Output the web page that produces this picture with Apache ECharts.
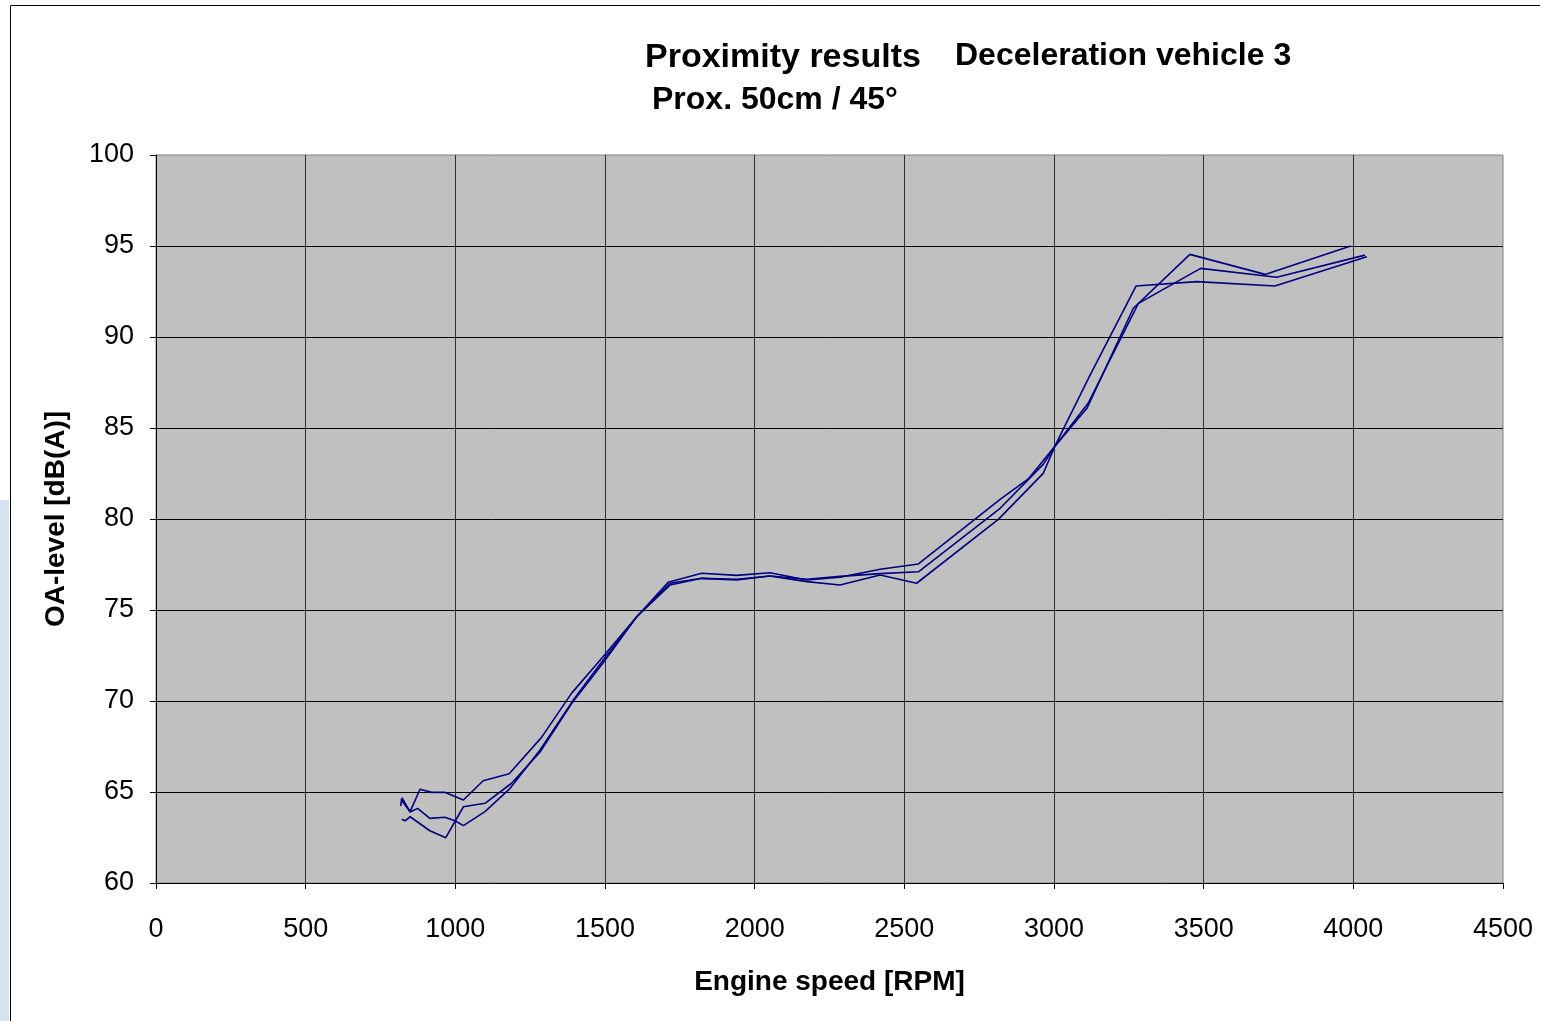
<!DOCTYPE html>
<html>
<head>
<meta charset="utf-8">
<script src="https://cdn.jsdelivr.net/npm/echarts@6/dist/echarts.min.js"></script>
<style>
html,body{margin:0;padding:0;background:#fff;}
#chart{width:1545px;height:1021px;}
</style>
</head>
<body>
<div id="chart"></div>
<script>
// Tick settings
const xTicks = [0, 500, 1000, 1500, 2000, 2500, 3000, 3500, 4000, 4500];
const yTicks = [60, 65, 70, 75, 80, 85, 90, 95, 100];

// Run 1
const rpmA = [818, 849, 882, 921, 965, 1027, 1093, 1180, 1288, 1388, 1494, 1606, 1711, 1823, 1940, 2051, 2174, 2285, 2419, 2547, 2820, 2914, 3003, 3118, 3274, 3477, 3738, 4045];
const dbA  = [64.6, 63.92, 65.15, 64.98, 64.98, 64.56, 65.62, 66.0, 68.0, 70.42, 72.44, 74.63, 76.52, 77.02, 76.9, 77.05, 76.65, 76.8, 77.24, 77.53, 81.08, 82.2, 84.0, 87.82, 92.8, 93.04, 92.8, 94.41];

// Run 2
const rpmB = [817, 822, 849, 874, 915, 965, 999, 1027, 1099, 1183, 1283, 1394, 1494, 1606, 1717, 1823, 1940, 2051, 2174, 2285, 2419, 2547, 2820, 2964, 3003, 3110, 3265, 3454, 3705, 3991];
const dbB  = [64.23, 64.67, 63.9, 64.1, 63.55, 63.61, 63.42, 63.15, 63.92, 65.2, 67.31, 70.05, 72.25, 74.63, 76.47, 76.74, 76.69, 76.87, 76.69, 76.85, 77.0, 77.1, 80.59, 83.0, 84.0, 86.08, 91.58, 94.54, 93.44, 95.0];

// Run 3
const rpmC = [821, 832, 849, 915, 968, 1027, 1099, 1188, 1283, 1389, 1494, 1606, 1717, 1823, 1940, 2051, 2174, 2285, 2419, 2541, 2814, 2964, 3003, 3114, 3282, 3490, 3744, 4039];
const dbC  = [63.5, 63.42, 63.64, 62.87, 62.49, 64.19, 64.38, 65.48, 67.2, 69.87, 72.1, 74.63, 76.37, 76.74, 76.65, 76.87, 76.56, 76.37, 76.92, 76.47, 79.98, 82.51, 84.0, 86.36, 91.85, 93.77, 93.28, 94.5];

const runs = [[rpmA, dbA], [rpmB, dbB], [rpmC, dbC]];

const FONT = '"Liberation Sans", Arial, sans-serif';
const chart = echarts.init(document.getElementById('chart'), null, {renderer: 'canvas'});

const series = runs.map(function (r, i) {
  return {
    type: 'line',
    name: 'Run ' + (i + 1),
    data: r[0].map(function (x, j) { return [x, r[1][j]]; }),
    symbol: 'none',
    lineStyle: {color: '#000080', width: 1.6},
    itemStyle: {color: '#000080'},
    animation: false,
    z: 5
  };
});

chart.setOption({
  backgroundColor: '#ffffff',
  animation: false,
  grid: {
    left: 156, right: 42, top: 155, bottom: 138,
    show: true, backgroundColor: '#C0C0C0', borderColor: '#808080', borderWidth: 1
  },
  xAxis: {
    type: 'value',
    min: xTicks[0], max: xTicks[xTicks.length - 1], interval: 500,
    name: 'Engine speed [RPM]',
    nameLocation: 'middle',
    nameGap: 85,
    nameTextStyle: {fontFamily: FONT, fontSize: 28, fontWeight: 'bold', color: '#000'},
    axisLine: {show: true, onZero: false, lineStyle: {color: '#000', width: 1}},
    axisTick: {show: true, inside: false, length: 6, lineStyle: {color: '#000'}},
    axisLabel: {fontFamily: FONT, fontSize: 27, color: '#000', margin: 33, formatter: function (v) { return String(v); }},
    splitLine: {show: true, showMinLine: false, showMaxLine: false, lineStyle: {color: '#303030', width: 1}}
  },
  yAxis: {
    type: 'value',
    min: yTicks[0], max: yTicks[yTicks.length - 1], interval: 5,
    name: 'OA-level [dB(A)]',
    nameLocation: 'middle',
    nameGap: 86,
    nameTextStyle: {fontFamily: FONT, fontSize: 28, fontWeight: 'bold', color: '#000'},
    axisLine: {show: true, onZero: false, lineStyle: {color: '#000', width: 1}},
    axisTick: {show: true, inside: false, length: 6, lineStyle: {color: '#000'}},
    axisLabel: {fontFamily: FONT, fontSize: 27, color: '#000', margin: 22, formatter: function (v) { return String(v); }},
    splitLine: {show: true, showMinLine: false, showMaxLine: false, lineStyle: {color: '#000', width: 1}}
  },
  series: series,
  graphic: [
    {type: 'rect', shape: {x: 0, y: 500, width: 9, height: 521}, style: {fill: '#d6e2ee'}, z: 0, silent: true},
    {type: 'line', shape: {x1: 10.5, y1: 5.5, x2: 1540, y2: 5.5}, style: {stroke: '#000', lineWidth: 1}, z: 10, silent: true},
    {type: 'line', shape: {x1: 10.5, y1: 5.5, x2: 10.5, y2: 1021}, style: {stroke: '#000', lineWidth: 1}, z: 10, silent: true},
    {type: 'text', left: 645, top: 41, style: {text: 'Proximity results', font: 'bold 34px ' + FONT, fill: '#000'}, z: 10},
    {type: 'text', left: 955, top: 40, style: {text: 'Deceleration vehicle 3', font: 'bold 32px ' + FONT, fill: '#000'}, z: 10},
    {type: 'text', left: 652, top: 84, style: {text: 'Prox. 50cm / 45°', font: 'bold 32px ' + FONT, fill: '#000'}, z: 10}
  ]
});
</script>
</body>
</html>
